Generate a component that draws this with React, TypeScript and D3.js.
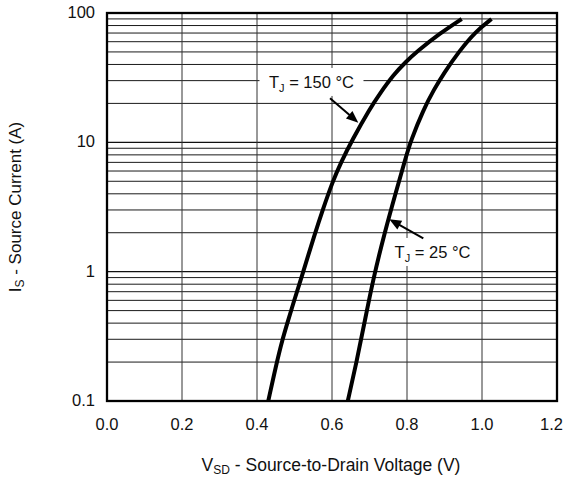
import React from "react";
import * as d3 from "d3";

const xTicks = [0, 0.2, 0.4, 0.6, 0.8, 1.0, 1.2];
const yTicks = [0.1, 1, 10, 100];
const yTickLabels = ["0.1", "1", "10", "100"];

const curve150: [number, number][] = [
  [0.430, 0.1], [0.4525, 0.198], [0.4675, 0.296], [0.4808, 0.399], [0.4995, 0.604],
  [0.5165, 0.862], [0.5547, 1.98], [0.5752, 3.0], [0.6015, 4.96], [0.6245, 7.05],
  [0.6535, 10.4], [0.7013, 18.3], [0.728, 23.9], [0.7635, 33.2], [0.7973, 42.0],
  [0.8259, 50.2], [0.888, 69.7], [0.9459, 89.9],
];
const curve25: [number, number][] = [
  [0.6421, 0.1], [0.6667, 0.2075], [0.688, 0.423], [0.7093, 0.862], [0.74, 1.99],
  [0.772, 4.28], [0.7947, 7.3], [0.8107, 10.4], [0.8434, 17.8], [0.8718, 25.6],
  [0.899, 34.5], [0.9381, 50.2], [0.9827, 71.9], [1.0254, 89.9],
];

const label150 = { x: 0.5453, y: 29.3, w: 104, from: [0.5947, 21.9], to: [0.6701, 14.2], main: "T", sub: "J", rest: " = 150 °C" };
const label25 = { x: 0.868, y: 1.42, w: 86, from: [0.8435, 1.81], to: [0.7528, 2.54], main: "T", sub: "J", rest: " = 25 °C" };

const W = 567, H = 477;
const L = 107, R = 557, T = 13, B = 401;
const FONT = "'Liberation Sans', Arial, Helvetica, sans-serif";

export default function App() {
  const x = d3.scaleLinear().domain([0, 1.2]).range([L, R]);
  const y = d3.scaleLog().domain([0.1, 100]).range([B, T]);

  const minor: number[] = [];
  [0.1, 1, 10].forEach((d) => {
    for (let k = 2; k <= 9; k++) minor.push(d * k);
  });

  const line = d3
    .line<[number, number]>()
    .x((d) => x(d[0]))
    .y((d) => y(d[1]))
    .curve(d3.curveBasis);

  const arrow = (lab: typeof label150) => {
    const x1 = x(lab.from[0]), y1 = y(lab.from[1]);
    const x2 = x(lab.to[0]), y2 = y(lab.to[1]);
    const ang = Math.atan2(y2 - y1, x2 - x1);
    const hl = 12, hw = 5;
    const bx = x2 - hl * Math.cos(ang), by = y2 - hl * Math.sin(ang);
    const px = -Math.sin(ang) * hw, py = Math.cos(ang) * hw;
    return (
      <g>
        <line x1={x1} y1={y1} x2={bx + 2 * Math.cos(ang)} y2={by + 2 * Math.sin(ang)} stroke="#000" strokeWidth={2} />
        <polygon points={`${x2},${y2} ${bx + px},${by + py} ${bx - px},${by - py}`} fill="#000" />
      </g>
    );
  };

  const label = (lab: typeof label150) => {
    const cx = x(lab.x), cy = y(lab.y);
    return (
      <g>
        <rect x={cx - lab.w / 2} y={cy - 14} width={lab.w} height={28} fill="#fff" />
        <text x={cx} y={cy + 6} textAnchor="middle" fontSize={16.5} fontFamily={FONT} fill="#111">
          {lab.main}
          <tspan fontSize={11} dy={4}>{lab.sub}</tspan>
          <tspan dy={-4}>{lab.rest}</tspan>
        </text>
      </g>
    );
  };

  return (
    <svg width={W} height={H} style={{ position: "absolute", left: 0, top: 0, background: "#fff" }}>
      <rect x={0} y={0} width={W} height={H} fill="#fff" />
      {minor.map((v, i) => (
        <line key={"m" + i} x1={L} x2={R} y1={y(v)} y2={y(v)} stroke="#1a1a1a" strokeWidth={1} />
      ))}
      {yTicks.map((v, i) => (
        <line key={"y" + i} x1={L} x2={R} y1={y(v)} y2={y(v)} stroke="#111" strokeWidth={1.2} />
      ))}
      {xTicks.map((v, i) => (
        <line key={"x" + i} x1={x(v)} x2={x(v)} y1={T} y2={B} stroke="#333" strokeWidth={1} />
      ))}
      {label(label150)}
      {label(label25)}
      <path d={line(curve150) || ""} fill="none" stroke="#000" strokeWidth={4} />
      <path d={line(curve25) || ""} fill="none" stroke="#000" strokeWidth={4} />
      {arrow(label150)}
      {arrow(label25)}
      <rect x={L} y={T} width={R - L} height={B - T} fill="none" stroke="#000" strokeWidth={2.3} />
      {xTicks.map((v, i) => (
        <text key={"xl" + i} x={i === xTicks.length - 1 ? 563 : x(v)} y={430}
          textAnchor={i === xTicks.length - 1 ? "end" : "middle"} fontSize={16.5} fontFamily={FONT} fill="#111">
          {d3.format(".1f")(v)}
        </text>
      ))}
      {yTicks.map((v, i) => (
        <text key={"yl" + i} x={95} y={y(v) + 5} textAnchor="end" fontSize={16.5} fontFamily={FONT} fill="#111">
          {yTickLabels[i]}
        </text>
      ))}
      <text x={(L + R) / 2 - 1} y={471} textAnchor="middle" fontSize={17.5} fontFamily={FONT} fill="#111">
        V<tspan fontSize={12} dy={3}>SD</tspan>
        <tspan dy={-3}> - Source-to-Drain Voltage (V)</tspan>
      </text>
      <text transform={`translate(21,${(T + B) / 2}) rotate(-90)`} textAnchor="middle" fontSize={17} fontFamily={FONT} fill="#111">
        I<tspan fontSize={12} dy={3}>S</tspan>
        <tspan dy={-3}> - Source Current (A)</tspan>
      </text>
    </svg>
  );
}
